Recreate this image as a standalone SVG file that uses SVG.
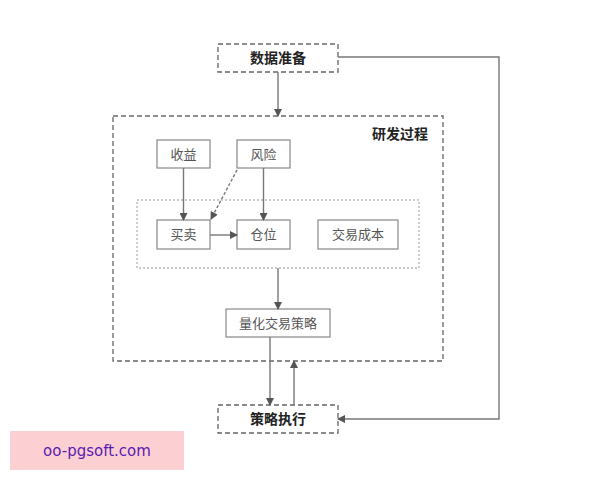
<svg xmlns="http://www.w3.org/2000/svg" width="600" height="480" viewBox="0 0 600 480">
<style>
.n{fill:#fff;stroke:#888;stroke-width:1.2}
.d{fill:#fff;stroke:#666;stroke-width:1.3;stroke-dasharray:5,3}
.t{font-family:"Noto Sans CJK SC",sans-serif;font-size:13px;fill:#555;text-anchor:middle}
.b{font-family:"Noto Sans CJK SC",sans-serif;font-size:14px;font-weight:bold;fill:#222;text-anchor:middle}
.c{fill:none;stroke:#777;stroke-width:1.4}
</style>
<defs><marker id="a" markerWidth="8" markerHeight="8" refX="7" refY="4" orient="auto" markerUnits="userSpaceOnUse"><path d="M0,0L8,4L0,8z" fill="#555"/></marker></defs>
<rect width="600" height="480" fill="#fff"/>
<g id="outer"><rect x="113" y="116" width="330" height="245" class="d" fill="none"/><text x="400" y="139" class="b">研发过程</text></g>
<g id="inner"><rect x="137" y="200" width="282" height="68" fill="none" stroke="#999" stroke-width="1" stroke-dasharray="2,2"/></g>
<g id="n1"><rect x="218" y="44" width="120" height="28" class="d"/><text x="278" y="63" class="b">数据准备</text></g>
<g id="n2"><rect x="157" y="140" width="53" height="28" class="n"/><text x="183.5" y="159" class="t">收益</text></g>
<g id="n3"><rect x="237" y="140" width="53" height="28" class="n"/><text x="263.5" y="159" class="t">风险</text></g>
<g id="n4"><rect x="157" y="220" width="53" height="29" class="n"/><text x="183.5" y="239" class="t">买卖</text></g>
<g id="n5"><rect x="237" y="220" width="53" height="29" class="n"/><text x="263.5" y="239" class="t">仓位</text></g>
<g id="n6"><rect x="318" y="220" width="80" height="29" class="n"/><text x="358" y="239" class="t">交易成本</text></g>
<g id="n7"><rect x="226" y="309" width="104" height="28" class="n"/><text x="278" y="328" class="t">量化交易策略</text></g>
<g id="n8"><rect x="218" y="405" width="120" height="28" class="d"/><text x="278" y="424" class="b">策略执行</text></g>
<g id="connectors">
<path d="M278,72V116" class="c" marker-end="url(#a)"/>
<path d="M183.5,168V220" class="c" marker-end="url(#a)"/>
<path d="M263.5,168V220" class="c" marker-end="url(#a)"/>
<path d="M237,170L211,219" class="c" stroke-dasharray="3,2" stroke-width="1" marker-end="url(#a)"/>
<path d="M210,235H237" class="c" marker-end="url(#a)"/>
<path d="M278,268V309" class="c" marker-end="url(#a)"/>
<path d="M270,337V405" class="c" marker-end="url(#a)"/>
<path d="M294,405V361" class="c" marker-end="url(#a)"/>
<path d="M338,57H499V419H338" class="c" marker-end="url(#a)"/>
</g>
<rect x="10" y="431" width="174" height="39" fill="#fcd0d3"/>
<text x="97" y="456" font-family="DejaVu Sans,sans-serif" font-size="15" fill="#5a1ab0" text-anchor="middle">oo-pgsoft.com</text>
</svg>
